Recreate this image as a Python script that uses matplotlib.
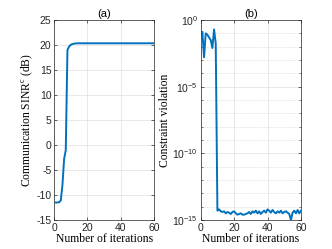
import matplotlib

matplotlib.use("Agg")
import matplotlib.pyplot as plt
import numpy as np
from matplotlib.ticker import FixedLocator

# colours (MATLAB defaults)
LINE = "#0072BD"
AXIS = "#262626"
GRID = "#E0E0E0"

plt.rcParams.update(
    {
        "font.family": ["Liberation Sans", "DejaVu Sans"],
        "font.size": 7.5,
        "mathtext.default": "regular",
        "axes.unicode_minus": False,
        "axes.edgecolor": AXIS,
        "axes.linewidth": 0.5,
        "xtick.color": AXIS,
        "ytick.color": AXIS,
        "xtick.direction": "in",
        "ytick.direction": "in",
        "xtick.major.size": 2.5,
        "ytick.major.size": 2.5,
        "xtick.major.width": 0.5,
        "ytick.major.width": 0.5,
        "xtick.major.pad": 2.5,
        "ytick.major.pad": 2,
    }
)

# ── data ────────────────────────────────────
iters = np.arange(1, 61)

sinr_db = [-11.5, -11.5, -11.45, -11.1, -8.0, -2.8, -1.0, 19.0, 19.7, 20.05,
           20.2, 20.28, 20.32, 20.34, 20.35] + [20.35] * 45

# log10 of the constraint violation
viol_log = [-0.9, -2.8, -1.0, -1.1, -1.3, -1.5, -2.1, -0.7, -1.75,
            -14.3, -14.2, -14.35, -14.4, -14.35, -14.5, -14.4, -14.45, -14.55, -14.4,
            -14.35, -14.5, -14.6, -14.55, -14.5, -14.6, -14.6, -14.55, -14.5, -14.4,
            -14.55, -14.35, -14.45, -14.3, -14.5, -14.35, -14.55, -14.4, -14.3, -14.45,
            -14.2, -14.3, -14.45, -14.25, -14.4, -14.5, -14.35, -14.45, -14.3, -14.5,
            -14.4, -14.35, -14.45, -14.55, -15.0, -14.45, -14.3, -14.5, -14.25, -14.5, -14.3]
violation = 10.0 ** np.array(viol_log)

fig = plt.figure(figsize=(3.32, 2.49), dpi=100)
ax1 = fig.add_axes([0.163, 0.1165, 0.301, 0.803])
ax2 = fig.add_axes([0.6045, 0.1165, 0.302, 0.803])

for ax in (ax1, ax2):
    ax.set_xlim(0, 60)
    ax.set_xticks([0, 20, 40, 60])
    ax.tick_params(top=True, right=True, labelsize=7.5)
    ax.grid(True, which="major", color=GRID, linewidth=0.5)
    ax.set_axisbelow(True)
    ax.set_xlabel("Number of iterations", family=["Liberation Serif"], fontsize=8.4, labelpad=0)

# ── (a) SINR ────────────────────────────────
ax1.plot(iters, sinr_db, color=LINE, linewidth=1.4)
ax1.set_ylim(-15, 25)
ax1.set_yticks(np.arange(-15, 26, 5))
ax1.set_ylabel("Communication SINR$^c$ (dB)", family=["Liberation Serif"], fontsize=8.4, labelpad=1)
ax1.set_title("(a)", fontsize=8, pad=2)

# ── (b) constraint violation ────────────────
ax2.semilogy(iters, violation, color=LINE, linewidth=1.4)
ax2.set_ylim(1e-15, 1e0)
ax2.yaxis.set_major_locator(FixedLocator([1e-15, 1e-10, 1e-5, 1e0]))
ax2.yaxis.set_minor_locator(FixedLocator([10.0 ** k for k in range(-14, 0) if k % 5 != 0]))
ax2.yaxis.set_minor_formatter(plt.NullFormatter())
ax2.tick_params(axis="y", which="minor", length=1.5, width=0.4, direction="in", right=True)
ax2.grid(True, which="minor", axis="y", color="#C8C8C8", linestyle=":", linewidth=0.5)
ax2.set_ylabel("Constraint violation", family=["Liberation Serif"], fontsize=8.4, labelpad=1)
ax2.set_title("(b)", fontsize=8, pad=2)

fig.savefig("out.png", dpi=100, facecolor="white")
